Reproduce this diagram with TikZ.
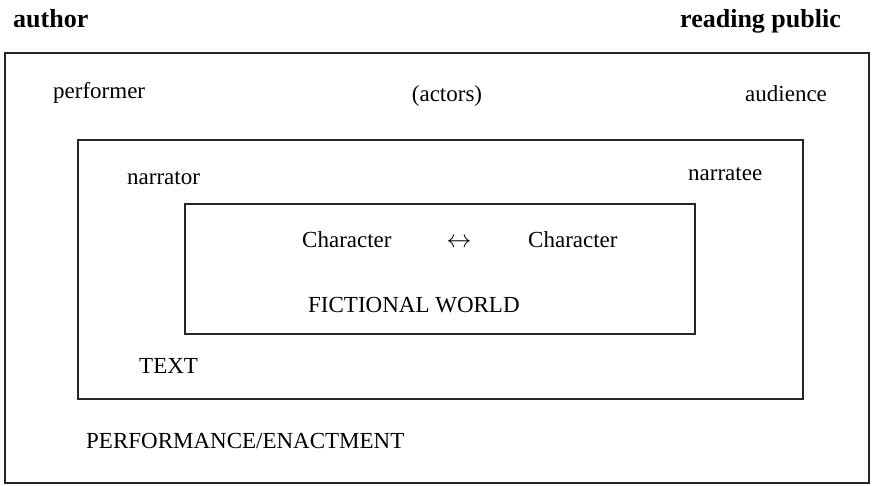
\documentclass[tikz,border=0pt]{standalone}
\usepackage{fontspec}
\setmainfont{Liberation Serif}
\begin{document}
\begin{tikzpicture}[x=1pt,y=-1pt,
  lbl/.style={anchor=base west,inner sep=0pt,font=\fontsize{23}{26}\selectfont},
  head/.style={anchor=base west,inner sep=0pt,font=\fontsize{26}{30}\selectfont\bfseries},
  frame/.style={draw=black!85,line width=1.1pt}]
\useasboundingbox (0,0) rectangle (872,485);
% frames
\draw[frame] (5,53) rectangle (869,483);
\draw[frame] (78,140) rectangle (803,399);
\draw[frame] (185,204) rectangle (695,334);
% headings
\node[head] (author) at (13,27) {author};
\node[head] (public) at (680,27) {reading public};
% outer level
\node[lbl] (performer) at (53,98) {performer};
\node[lbl,anchor=base] (actors) at (447,101) {(actors)};
\node[lbl] (audience) at (745,101) {audience};
\node[lbl] (perf) at (86,448) {PERFORMANCE/ENACTMENT};
% middle level
\node[lbl] (narrator) at (127,184) {narrator};
\node[lbl] (narratee) at (688,180) {narratee};
\node[lbl] (text) at (139,373) {TEXT};
% inner level
\node[lbl] (charA) at (302,247) {Character};
\node[lbl,anchor=base] (arrow) at (459,247) {$\leftrightarrow$};
\node[lbl] (charB) at (528,247) {Character};
\node[lbl] (world) at (308,312) {FICTIONAL WORLD};
\end{tikzpicture}
\end{document}
